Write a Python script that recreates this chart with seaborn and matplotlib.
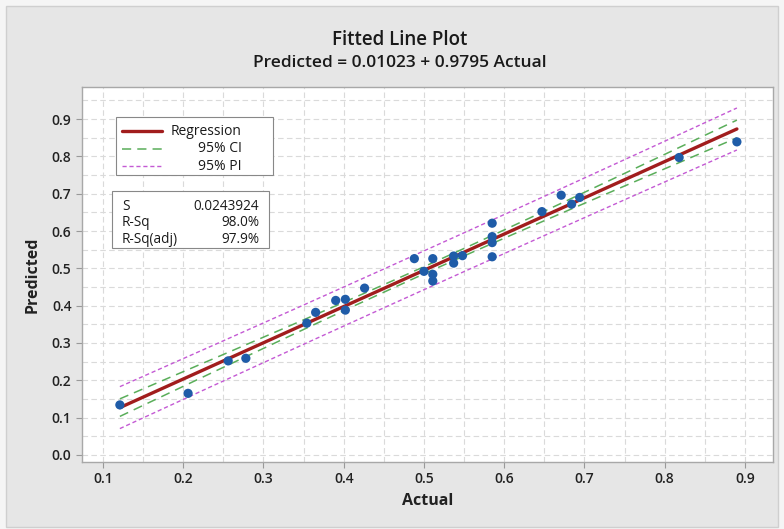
import matplotlib
matplotlib.use('Agg')
import matplotlib.pyplot as plt
from matplotlib.patches import Rectangle
from matplotlib.ticker import MultipleLocator
import numpy as np
import pandas as pd
import seaborn as sns

# Data
actual = [0.121, 0.206, 0.256, 0.278, 0.354, 0.365, 0.390, 0.402, 0.402, 0.426,
          0.488, 0.500, 0.511, 0.511, 0.511, 0.537, 0.537, 0.548, 0.585, 0.585,
          0.585, 0.585, 0.647, 0.671, 0.684, 0.694, 0.818, 0.890]
predicted = [0.134, 0.165, 0.252, 0.259, 0.353, 0.382, 0.414, 0.417, 0.388, 0.447,
             0.526, 0.492, 0.526, 0.484, 0.466, 0.533, 0.514, 0.534, 0.621, 0.585,
             0.569, 0.531, 0.652, 0.696, 0.672, 0.690, 0.797, 0.839]
x_ticks = [0.1, 0.2, 0.3, 0.4, 0.5, 0.6, 0.7, 0.8, 0.9]
y_ticks = [0.0, 0.1, 0.2, 0.3, 0.4, 0.5, 0.6, 0.7, 0.8, 0.9]
legend_labels = ['Regression', '95% CI', '95% PI']
stat_names = ['S', 'R-Sq', 'R-Sq(adj)']
stat_values = ['0.0243924', '98.0%', '97.9%']
title = 'Fitted Line Plot'
subtitle = 'Predicted = 0.01023 + 0.9795 Actual'

df = pd.DataFrame({'Actual': actual, 'Predicted': predicted})

sns.set_style('white')
plt.rcParams['font.family'] = ['Open Sans', 'DejaVu Sans']

# Fit and intervals
x = df['Actual'].values
y = df['Predicted'].values
n = len(x)
b1, b0 = np.polyfit(x, y, 1)
resid = y - (b0 + b1 * x)
s = np.sqrt((resid ** 2).sum() / (n - 2))
t = 2.0555  # t(0.975, 26)
xs = np.linspace(x.min(), x.max(), 200)
fit = b0 + b1 * xs
sxx = ((x - x.mean()) ** 2).sum()
se_ci = s * np.sqrt(1 / n + (xs - x.mean()) ** 2 / sxx)
se_pi = s * np.sqrt(1 + 1 / n + (xs - x.mean()) ** 2 / sxx)

fig = plt.figure(figsize=(7.84, 5.29), dpi=100)
fig.patch.set_facecolor('#f5f5f5')
fig.patches.append(Rectangle((6 / 784, 2 / 529), 772 / 784, 521 / 529,
                             transform=fig.transFigure, facecolor='#e6e6e6',
                             edgecolor='#cfcfcf', linewidth=1, zorder=-10))
ax = fig.add_axes([82 / 784, (529 - 462) / 529, 691 / 784, 375 / 529])
ax.set_zorder(1)
ax.set_facecolor('white')

red = '#a11d1d'
green = '#5aae5a'
purple = '#c45ad4'
styles = [dict(color=red, lw=2.4), dict(color=green, lw=1.1, dashes=(6, 4)),
          dict(color=purple, lw=1.0, dashes=(3, 2))]

ax.plot(xs, fit, zorder=3, **styles[0])
ax.plot(xs, fit + t * se_ci, zorder=2, **styles[1])
ax.plot(xs, fit - t * se_ci, zorder=2, **styles[1])
ax.plot(xs, fit + t * se_pi, zorder=2, **styles[2])
ax.plot(xs, fit - t * se_pi, zorder=2, **styles[2])
sns.scatterplot(data=df, x='Actual', y='Predicted', ax=ax, color='#1f5ca8',
                s=44, edgecolor='none', zorder=4)

ax.set_xlim(0.0738, 0.935)
ax.set_ylim(-0.019, 0.986)
ax.set_xticks(x_ticks)
ax.set_yticks(y_ticks)
ax.set_xticklabels([f'{v:.1f}' for v in x_ticks])
ax.set_yticklabels([f'{v:.1f}' for v in y_ticks])
ax.xaxis.set_minor_locator(MultipleLocator(0.05))
ax.yaxis.set_minor_locator(MultipleLocator(0.05))
ax.grid(which='both', color='#dadada', linestyle=(0, (5, 3)), linewidth=0.8, zorder=0)
ax.set_axisbelow(True)
ax.tick_params(axis='both', which='major', length=4, color='#999999',
               labelsize=10, labelcolor='#222222', direction='out', bottom=True, left=True)
ax.tick_params(axis='both', which='minor', length=0)
for lab in ax.get_xticklabels() + ax.get_yticklabels():
    lab.set_fontweight('semibold')
for sp in ax.spines.values():
    sp.set_color('#a8a8a8')
    sp.set_linewidth(1)

ax.set_xlabel('Actual', fontsize=11.5, fontweight='bold', color='#222222', labelpad=5)
ax.set_ylabel('Predicted', fontsize=11.5, fontweight='bold', color='#222222', labelpad=8)

fig.text(400 / 784, 1 - 40 / 529, title, ha='center', va='center',
         fontsize=13.5, fontweight='semibold', color='#1a1a1a')
fig.text(400 / 784, 1 - 63 / 529, subtitle, ha='center', va='center',
         fontsize=12.5, fontweight='semibold', color='#1a1a1a')

# Legend box (labels right-aligned as in the original)
ax.add_patch(Rectangle((0.049, 0.765), 0.227, 0.155, transform=ax.transAxes,
                       facecolor='white', edgecolor='#888888', linewidth=0.8, zorder=5))
for i, (lab, st) in enumerate(zip(legend_labels, styles)):
    yy = 0.882 - i * 0.0465
    ax.plot([0.058, 0.116], [yy, yy], transform=ax.transAxes, zorder=6, **st)
    ax.text(0.231, yy, lab, transform=ax.transAxes, ha='right', va='center',
            fontsize=10, color='#1a1a1a', zorder=6)

# Stats box
ax.add_patch(Rectangle((0.0434, 0.5707), 0.227, 0.152, transform=ax.transAxes,
                       facecolor='white', edgecolor='#888888', linewidth=0.8, zorder=5))
for i, (nm, val) in enumerate(zip(stat_names, stat_values)):
    yy = 0.681 - i * 0.0435
    ax.text(0.0579, yy, nm, transform=ax.transAxes, ha='left', va='center',
            fontsize=9.8, color='#1a1a1a', zorder=6)
    ax.text(0.256, yy, val, transform=ax.transAxes, ha='right', va='center',
            fontsize=9.8, color='#1a1a1a', zorder=6)

fig.savefig('out.png', dpi=100, facecolor=fig.get_facecolor())
